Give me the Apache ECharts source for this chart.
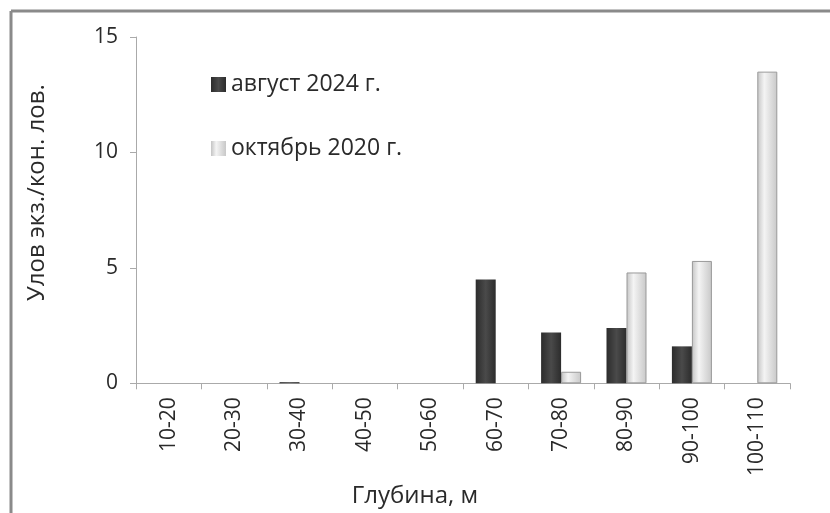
<!DOCTYPE html>
<html><head><meta charset="utf-8">
<script src="https://cdn.jsdelivr.net/npm/echarts@6/dist/echarts.min.js"></script>
<style>html,body{margin:0;padding:0;background:#fff}#c{width:830px;height:513px}</style>
</head><body><div id="c"></div>
<script>
const categories = ['10-20','20-30','30-40','40-50','50-60','60-70','70-80','80-90','90-100','100-110'];
const august2024 = [0, 0, 0.05, 0, 0, 4.5, 2.2, 2.4, 1.6, 0];
const october2020 = [0, 0, 0, 0, 0, 0, 0.5, 4.8, 5.3, 13.5];
const yTicks = [0, 5, 10, 15];
const seriesNames = ['август 2024 г.', 'октябрь 2020 г.'];

const font = '"Open Sans", "Noto Sans", sans-serif';
const chart = echarts.init(document.getElementById('c'), null, {renderer: 'canvas'});
const darkFill = new echarts.graphic.LinearGradient(0,0,1,0,[
  {offset:0,color:'#2c2c2c'},{offset:0.5,color:'#4a4a4a'},{offset:1,color:'#2c2c2c'}]);
const lightFill = new echarts.graphic.LinearGradient(0,0,1,0,[
  {offset:0,color:'#c4c4c4'},{offset:0.35,color:'#f4f4f4'},{offset:0.7,color:'#dcdcdc'},{offset:1,color:'#c8c8c8'}]);
const lightData = october2020.map(v => ({value: v, itemStyle: {borderWidth: v > 0 ? 1 : 0}}));
chart.setOption({
  animation: false,
  backgroundColor: '#fff',
  graphic: [
    {type:'line', shape:{x1:11, y1:11, x2:830, y2:11}, style:{stroke:'#8a8a8a', lineWidth:3}},
    {type:'line', shape:{x1:11, y1:11, x2:11, y2:513}, style:{stroke:'#8a8a8a', lineWidth:3}}
  ],
  legend: {
    orient: 'vertical', left: 206, top: 68, itemGap: 41,
    itemWidth: 15, itemHeight: 15, icon: 'rect',
    textStyle: {fontFamily: font, fontSize: 23, color: '#2a2a2a'},
    data: seriesNames
  },
  grid: {left: 136, right: 40, top: 37, bottom: 127, containLabel: false},
  xAxis: {
    type: 'category', data: categories,
    name: 'Глубина, м', nameLocation: 'middle', nameGap: 97,
    nameTextStyle: {fontFamily: font, fontSize: 24, color: '#2a2a2a', padding: [0, 96, 0, 0]},
    axisLine: {lineStyle: {color: '#aaa', width: 1}},
    axisTick: {show: true, length: 6, lineStyle: {color: '#aaa'}},
    axisLabel: {rotate: 90, fontFamily: font, fontSize: 21, color: '#2a2a2a', margin: 14}
  },
  yAxis: {
    type: 'value', min: 0, max: 15, interval: 5,
    name: 'Улов экз./кон. лов.', nameLocation: 'middle', nameGap: 87,
    nameTextStyle: {fontFamily: font, fontSize: 24, color: '#2a2a2a', padding: [0, 0, 0, 35]},
    splitLine: {show: false},
    axisLine: {show: true, lineStyle: {color: '#aaa', width: 1}},
    axisTick: {show: true, length: 6, lineStyle: {color: '#aaa'}},
    axisLabel: {fontFamily: font, fontSize: 21, color: '#2a2a2a', margin: 18,
      formatter: v => yTicks.includes(v) ? String(v) : ''}
  },
  series: [
    {name: seriesNames[0], type: 'bar', data: august2024, barWidth: 20, barGap: '0%',
     itemStyle: {color: darkFill}},
    {name: seriesNames[1], type: 'bar', data: lightData, barWidth: 20,
     itemStyle: {color: lightFill, borderColor: '#999'}}
  ]
});
</script></body></html>
